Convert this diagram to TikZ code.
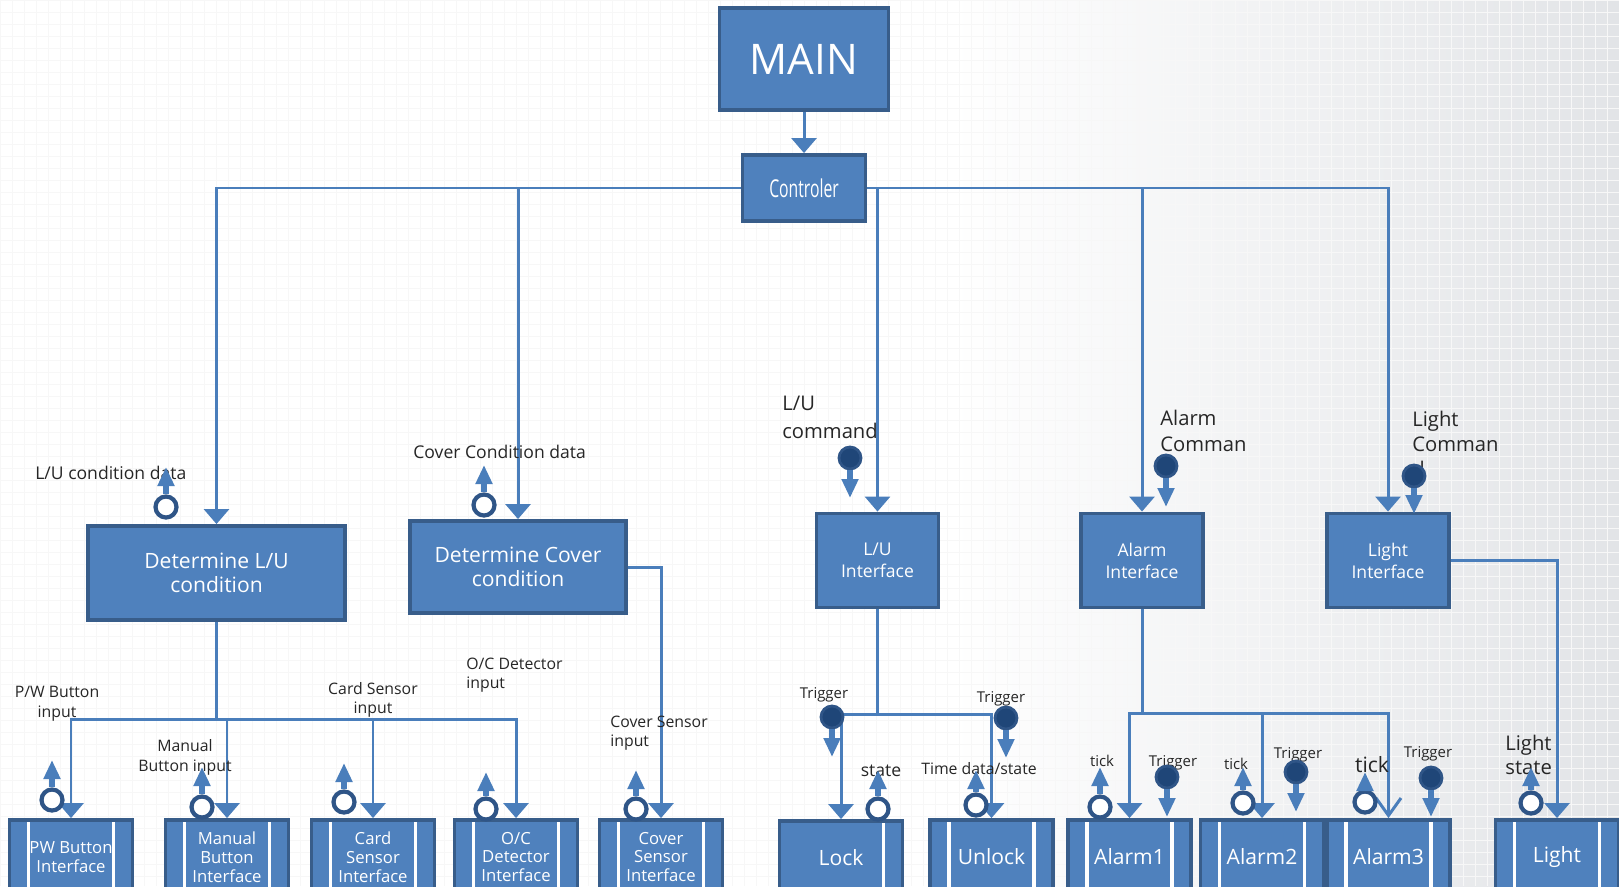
\documentclass[tikz,border=0pt]{standalone}
\usepackage{fontspec}
\setmainfont{Open Sans}
\usetikzlibrary{arrows.meta}

\definecolor{boxblue}{HTML}{4F81BD}
\definecolor{boxedge}{HTML}{385D8A}
\definecolor{flowblue}{HTML}{4A7EBB}
\definecolor{ringblue}{HTML}{2F5587}
\definecolor{flagfill}{HTML}{1F4678}
\definecolor{bggray}{HTML}{E2E4E7}

\newcommand{\fs}[2]{\fontsize{#1}{#2}\selectfont}

\tikzset{
  box/.style={draw=boxedge, fill=boxblue, line width=2.2pt, text=white, align=center, inner sep=1pt},
  ifbox/.style={box, minimum width=2.44cm, minimum height=1.88cm, font=\fs{10}{12.5}},
  modbox/.style={box, minimum width=2.46cm, minimum height=1.48cm,
    path picture={
      \draw[white, line width=2.2pt] ([xshift=0.38cm]path picture bounding box.north west) -- ([xshift=0.38cm]path picture bounding box.south west);
      \draw[white, line width=2.2pt] ([xshift=-0.38cm]path picture bounding box.north east) -- ([xshift=-0.38cm]path picture bounding box.south east);}},
  modboxr/.style={box, minimum width=2.46cm, minimum height=1.48cm,
    path picture={
      \draw[white, line width=2.2pt] ([xshift=-0.38cm]path picture bounding box.north east) -- ([xshift=-0.38cm]path picture bounding box.south east);}},
  line/.style={draw=flowblue, line width=1.7pt},
  flow/.style={line, -{Triangle[width=0.5cm,length=0.3cm]}},
  barb/.style={line, -{Straight Barb[width=0.5cm,length=0.35cm]}},
  cpl/.style={draw=flowblue, line width=3.6pt, -{Triangle[width=0.32cm,length=0.38cm]}},
  dc/.style={circle, draw=ringblue, fill=white, line width=2.4pt, minimum size=0.42cm, inner sep=0pt},
  cf/.style={circle, draw=ringblue, fill=flagfill, line width=1.6pt, minimum size=0.44cm, inner sep=0pt},
  lbl/.style={inner sep=0pt, text=black!85}
}

\begin{document}
\begin{tikzpicture}[x=0.02cm, y=-0.02cm]

          \useasboundingbox (0,0) rectangle (1619,886);
          \clip (0,0) rectangle (1619,886);
          \fill[white] (0,0) rectangle (1619,886);
          \shade[left color=white, right color=bggray] (950,0) rectangle (1619,886);
          \draw[black!3, step=0.24cm] (0,0) grid (1619,886);

          \node[box, minimum width=3.38cm, minimum height=2.04cm, font=\fs{24}{28}] (main) at (804,59) {MAIN};
          \node[box, minimum width=2.46cm, minimum height=1.32cm, font=\fs{14}{16}] (ctrl) at (804,188) {\scalebox{0.64}[1]{Controler}};

          \node[box, minimum width=5.14cm, minimum height=1.88cm, font=\fs{12}{14}] (detlu) at (216.5,573) {Determine L/U\\condition};
          \node[box, minimum width=4.32cm, minimum height=1.84cm, font=\fs{12}{14}] (detcov) at (518,567) {Determine Cover\\condition};
          \node[ifbox] (luif) at (877.5,560.5) {L/U\\Interface};
          \node[ifbox] (alif) at (1142,560.5) {Alarm\\Interface};
          \node[ifbox] (ltif) at (1388,560.5) {Light\\Interface};

          \foreach \n/\x/\t in {pw/71/{PW Button\\Interface}, man/227/{Manual\\Button\\Interface},
                               card/373/{Card\\Sensor\\Interface}, oc/516/{O/C\\Detector\\Interface},
                               cov/661/{Cover\\Sensor\\Interface}}
          {
            \node[modbox, font=\fs{9.5}{10.8}] (\n) at (\x,857) {\t};
          }
          \node[modboxr, font=\fs{12}{14}] (lock) at (841,858) {Lock};
          \foreach \n/\x/\t in {unlock/991.5/Unlock, al1/1129.5/Alarm1, al2/1262/Alarm2, al3/1388.5/Alarm3, light/1557/Light}
          {
            \node[modbox, font=\fs{12}{14}] (\n) at (\x,857) {\t};
          }

          \draw[flow] (main) -- (ctrl);
          \foreach \m in {detlu,detcov}
          {
            \draw[flow] (ctrl.west) -| (\m.north);
          }
          \foreach \m in {luif,alif,ltif}
          {
            \draw[flow] (ctrl.east) -| (\m.north);
          }

          \coordinate (lubus) at (216.5,719);
          \draw[line] (detlu) -- (lubus);
          \foreach \m in {pw,man,card,oc}
          {
            \draw[flow] (lubus) -| (\m.north);
          }
          \draw[flow] (detcov.east) -| (cov.north);

          \coordinate (lockbus) at (877.5,714);
          \draw[line] (luif) -- (lockbus);
          \draw[flow] (lockbus) -| (lock.north);
          \draw[flow] (lockbus) -| (unlock.north);

          \coordinate (albus) at (1142,713);
          \draw[line] (alif) -- (albus);
          \draw[flow] (albus) -| (al1.north);
          \draw[flow] (albus) -| (al2.north);
          \draw[barb] (albus) -| (al3.north);

          \draw[flow] (ltif.east) -| (light.north);

          \node[lbl, anchor=west, font=\fs{10}{12}] (lucond) at (35,473) {L/U condition data};
          \node[lbl, anchor=west, font=\fs{10}{12}] (covcond) at (413,452) {Cover Condition data};
          \node[lbl, align=center, font=\fs{9}{11.3}] (pwin) at (57,704) {P/W Button\\input};
          \node[lbl, align=center, font=\fs{9}{11.3}] (manin) at (185,757) {Manual\\Button input};
          \node[lbl, align=center, font=\fs{9}{11}] (cardin) at (373,700) {Card Sensor\\input};
          \node[lbl, anchor=west, align=left, font=\fs{9}{11}] (ocin) at (466,675) {O/C Detector\\input};
          \node[lbl, anchor=west, align=left, font=\fs{9}{11}] (covin) at (610,733) {Cover Sensor\\input};
          \node[lbl, anchor=west, align=left, font=\fs{11.5}{16}] (lucmd) at (782,417) {L/U\\command};
          \node[lbl, anchor=west, align=left, font=\fs{11.5}{14.7}] (alcmd) at (1160,431) {Alarm\\Comman};
          \node[lbl, anchor=west, align=left, font=\fs{11.5}{14}] (ltcmd) at (1412,444) {Light\\Comman\\d};
          \node[lbl, anchor=west, align=left, font=\fs{11.5}{14}] (ltst) at (1505,755) {Light\\state};
          \node[lbl, font=\fs{10}{12}] (state) at (881,771) {state};
          \node[lbl, font=\fs{9}{11}] (timest) at (979,769) {Time data/state};
          \foreach \n/\x/\y in {trig1/824/695, trig2/1001/699, trig3/1173/763, trig4/1298/755, trig5/1428/754}
          {
            \node[lbl, font=\fs{8.5}{10}] (\n) at (\x,\y) {Trigger};
          }
          \node[lbl, font=\fs{8.5}{10}] (tick1) at (1102,761) {tick};
          \node[lbl, font=\fs{8.5}{10}] (tick2) at (1236,764) {tick};
          \node[lbl, font=\fs{12}{14}] (tick3) at (1372,765) {tick};

          \foreach \n/\x/\y/\t in {c1/166/507/467, c2/484/505/465, c3/52/800/760, c4/202/807/767,
                                  c5/344/802/763, c6/486/809/772, c7/636/809/770, c8/878/809/770,
                                  c9/976/805/770, c10/1100/807/767, c11/1243/803/767, c12/1365/802/772,
                                  c13/1531/803/767}
          {
            \node[dc] (\n) at (\x,\y) {};
            \coordinate (\n-end) at (\x,\t);
            \draw[cpl] (\n) -- (\n-end);
          }
          \foreach \n/\x/\y/\t in {f1/850/458/498, f2/1166/466/507, f3/1414/476/514, f4/832/717/757,
                                  f5/1006/718/758, f6/1167/777/817, f7/1296/772/812, f8/1431/778/817}
          {
            \node[cf] (\n) at (\x,\y) {};
            \coordinate (\n-end) at (\x,\t);
            \draw[cpl] (\n) -- (\n-end);
          }

\end{tikzpicture}
\end{document}
